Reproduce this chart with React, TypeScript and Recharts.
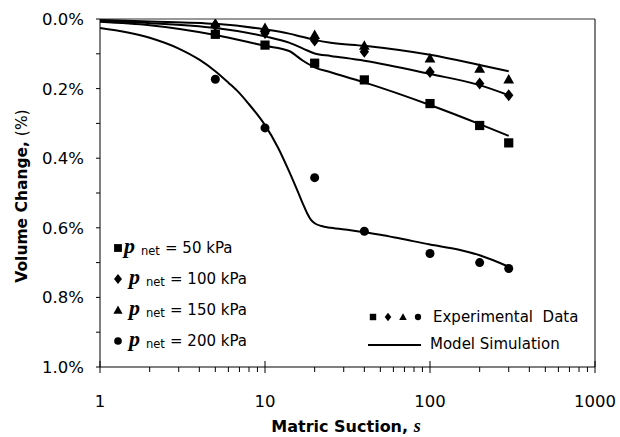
import React from "react";
import { ComposedChart, Line, Scatter, XAxis, YAxis, ReferenceLine } from "recharts";

// net stress levels, kPa
const P_NET = ["50", "100", "150", "200"];

// experimental points (matric suction, volume change %)
const SUCTION = [5, 10, 20, 40, 100, 200, 300];
const EXP_50 = [0.044, 0.075, 0.127, 0.175, 0.243, 0.306, 0.356];
const EXP_100 = [0.018, 0.04, 0.062, 0.094, 0.152, 0.185, 0.219];
const EXP_150 = [0.012, 0.025, 0.045, 0.076, 0.113, 0.142, 0.173];
const EXP_200 = [0.173, 0.313, 0.456, 0.61, 0.674, 0.7, 0.717];

// model simulation
const SIM_X = [1, 2, 5, 10, 14, 17, 20, 25, 40, 100, 200, 300];
const SIM_50 = [0.008, 0.018, 0.046, 0.077, 0.092, 0.12, 0.139, 0.153, 0.182, 0.247, 0.302, 0.336];
const SIM_100 = [0.006, 0.012, 0.026, 0.05, 0.068, 0.085, 0.099, 0.106, 0.12, 0.158, 0.19, 0.219];
const SIM_150 = [0.003, 0.007, 0.014, 0.03, 0.042, 0.052, 0.06, 0.068, 0.077, 0.103, 0.132, 0.15];
const SIM_X_200 = [1, 2, 3, 4, 5, 6, 7, 8, 9, 10, 12, 14, 16, 17, 18, 19, 20, 22, 25, 33, 50, 66, 100, 150, 200, 300];
const SIM_200 = [0.026, 0.054, 0.085, 0.117, 0.15, 0.183, 0.213, 0.245, 0.275, 0.305, 0.37, 0.438, 0.502, 0.532, 0.558, 0.577, 0.587, 0.595, 0.6, 0.607, 0.62, 0.631, 0.648, 0.663, 0.679, 0.712];

const DECADES = [1, 10, 100, 1000];
const X_TICKS = [1, 2, 3, 4, 5, 6, 7, 8, 9, 10, 20, 30, 40, 50, 60, 70, 80, 90, 100, 200, 300, 400, 500, 600, 700, 800, 900, 1000];
const Y_TICKS = [0, 0.1, 0.2, 0.3, 0.4, 0.5, 0.6, 0.7, 0.8, 0.9, 1.0];

const FONT = "'DejaVu Sans', Verdana, sans-serif";
const SERIF = "'Liberation Serif', 'DejaVu Serif', serif";

const pts = (xs: number[], ys: number[]) => xs.map((x, i) => ({ x, y: ys[i] }));

const Marker = ({ cx, cy, kind, s = 1 }: any) => {
  if (cx == null || cy == null) return null;
  if (kind === "square") return <rect x={cx - 4.6 * s} y={cy - 4.6 * s} width={9.2 * s} height={9.2 * s} fill="#000" />;
  if (kind === "diamond")
    return <path d={`M${cx},${cy - 6 * s}L${cx + 4.7 * s},${cy}L${cx},${cy + 6 * s}L${cx - 4.7 * s},${cy}Z`} fill="#000" />;
  if (kind === "triangle")
    return <path d={`M${cx},${cy - 5.2 * s}L${cx + 5.4 * s},${cy + 4.3 * s}L${cx - 5.4 * s},${cy + 4.3 * s}Z`} fill="#000" />;
  return <circle cx={cx} cy={cy} r={4.5 * s} fill="#000" />;
};

const KINDS = ["square", "diamond", "triangle", "circle"];

const XTick = (props: any) => {
  const { x, y, payload } = props;
  const major = DECADES.includes(payload.value);
  return (
    <g>
      <line x1={x} x2={x} y1={major ? y - 6 : y} y2={y + (major ? 6 : 5)} stroke="#000" />
      {major && (
        <text x={x} y={y + 40} textAnchor="middle" fontSize={16.5} fontFamily={FONT} fill="#000">
          {payload.value}
        </text>
      )}
    </g>
  );
};

const YTick = (props: any) => {
  const { x, y, payload } = props;
  const labelled = Math.round(payload.value * 10) % 2 === 0;
  return (
    <g>
      <line x1={x - 4} x2={x} y1={y} y2={y} stroke="#000" />
      {labelled && (
        <text x={x - 16} y={y + 6} textAnchor="end" fontSize={16.5} fontFamily={FONT} fill="#000">
          {payload.value.toFixed(1) + "%"}
        </text>
      )}
    </g>
  );
};

const YLabel = () => (
  <text x={27} y={196} transform="rotate(-90, 27, 196)" textAnchor="middle" fontSize={15.5} fontFamily={FONT} fill="#000">
    <tspan fontWeight="bold">Volume Change,</tspan>
    <tspan>{"  (%)"}</tspan>
  </text>
);

const XLabel = () => (
  <text x={346} y={432} textAnchor="middle" fontSize={16} fontFamily={FONT} fontWeight="bold" fill="#000">
    Matric Suction,{" "}
    <tspan fontFamily={SERIF} fontStyle="italic" fontSize={18}>
      s
    </tspan>
  </text>
);

const ROW_Y = [248, 279, 310, 341];
const ROW_SHIFT = [0, 5, 5, 5];

export default function App() {
  const exp = [EXP_50, EXP_100, EXP_150, EXP_200];
  return (
    <div style={{ position: "absolute", left: 0, top: 0, width: 620, height: 437, background: "#fff" }}>
      <ComposedChart width={620} height={437} margin={{ top: 19, right: 25, bottom: 0, left: 0 }}>
        <XAxis
          type="number"
          dataKey="x"
          scale="log"
          domain={[1, 1000]}
          ticks={X_TICKS}
          interval={0}
          allowDataOverflow
          height={70}
          tickSize={0}
          tickMargin={0}
          tick={<XTick />}
          tickLine={false}
          axisLine={{ stroke: "#000" }}
          label={<XLabel />}
        />
        <YAxis
          type="number"
          dataKey="y"
          domain={[0, 1]}
          reversed
          ticks={Y_TICKS}
          interval={0}
          allowDataOverflow
          width={100}
          tickSize={0}
          tickMargin={0}
          tick={<YTick />}
          tickLine={false}
          axisLine={{ stroke: "#000" }}
          label={<YLabel />}
        />
        <ReferenceLine y={0} stroke="#333" />
        <ReferenceLine x={1000} stroke="#000" />
        <Line data={pts(SIM_X, SIM_50)} dataKey="y" type="monotone" stroke="#000" strokeWidth={2} dot={false} isAnimationActive={false} />
        <Line data={pts(SIM_X, SIM_100)} dataKey="y" type="monotone" stroke="#000" strokeWidth={2} dot={false} isAnimationActive={false} />
        <Line data={pts(SIM_X, SIM_150)} dataKey="y" type="monotone" stroke="#000" strokeWidth={2} dot={false} isAnimationActive={false} />
        <Line data={pts(SIM_X_200, SIM_200)} dataKey="y" type="monotone" stroke="#000" strokeWidth={2} dot={false} isAnimationActive={false} />
        {exp.map((ys, i) => (
          <Scatter
            key={P_NET[i]}
            data={pts(SUCTION, ys)}
            dataKey="y"
            isAnimationActive={false}
            shape={(p: any) => <Marker cx={p.cx} cy={p.cy} kind={KINDS[i]} />}
          />
        ))}
      </ComposedChart>
      <svg width={620} height={437} style={{ position: "absolute", left: 0, top: 0, pointerEvents: "none" }}>
        {P_NET.map((p, i) => (
          <g key={p}>
            <Marker cx={118} cy={ROW_Y[i]} kind={KINDS[i]} s={0.85} />
            <text x={124 + ROW_SHIFT[i]} y={ROW_Y[i] + 5} fontFamily={SERIF} fontStyle="italic" fontWeight="bold" fontSize={22} fill="#000">
              p
            </text>
            <text x={141 + ROW_SHIFT[i]} y={ROW_Y[i] + 7} fontFamily={FONT} fontSize={11.5} fill="#000">
              net
            </text>
            <text x={165 + ROW_SHIFT[i]} y={ROW_Y[i] + 5} fontFamily={FONT} fontSize={15} fill="#000">
              {"= " + p + " kPa"}
            </text>
          </g>
        ))}
        {KINDS.map((k, i) => (
          <Marker key={k} cx={373 + 15 * i} cy={317} kind={k} s={0.7} />
        ))}
        <text x={433} y={322} fontFamily={FONT} fontSize={15} fill="#000" xmlSpace="preserve">
          Experimental{"  "}Data
        </text>
        <line x1={368} x2={421} y1={345} y2={345} stroke="#000" strokeWidth={2} />
        <text x={430} y={349} fontFamily={FONT} fontSize={15} fill="#000">
          Model Simulation
        </text>
      </svg>
    </div>
  );
}
